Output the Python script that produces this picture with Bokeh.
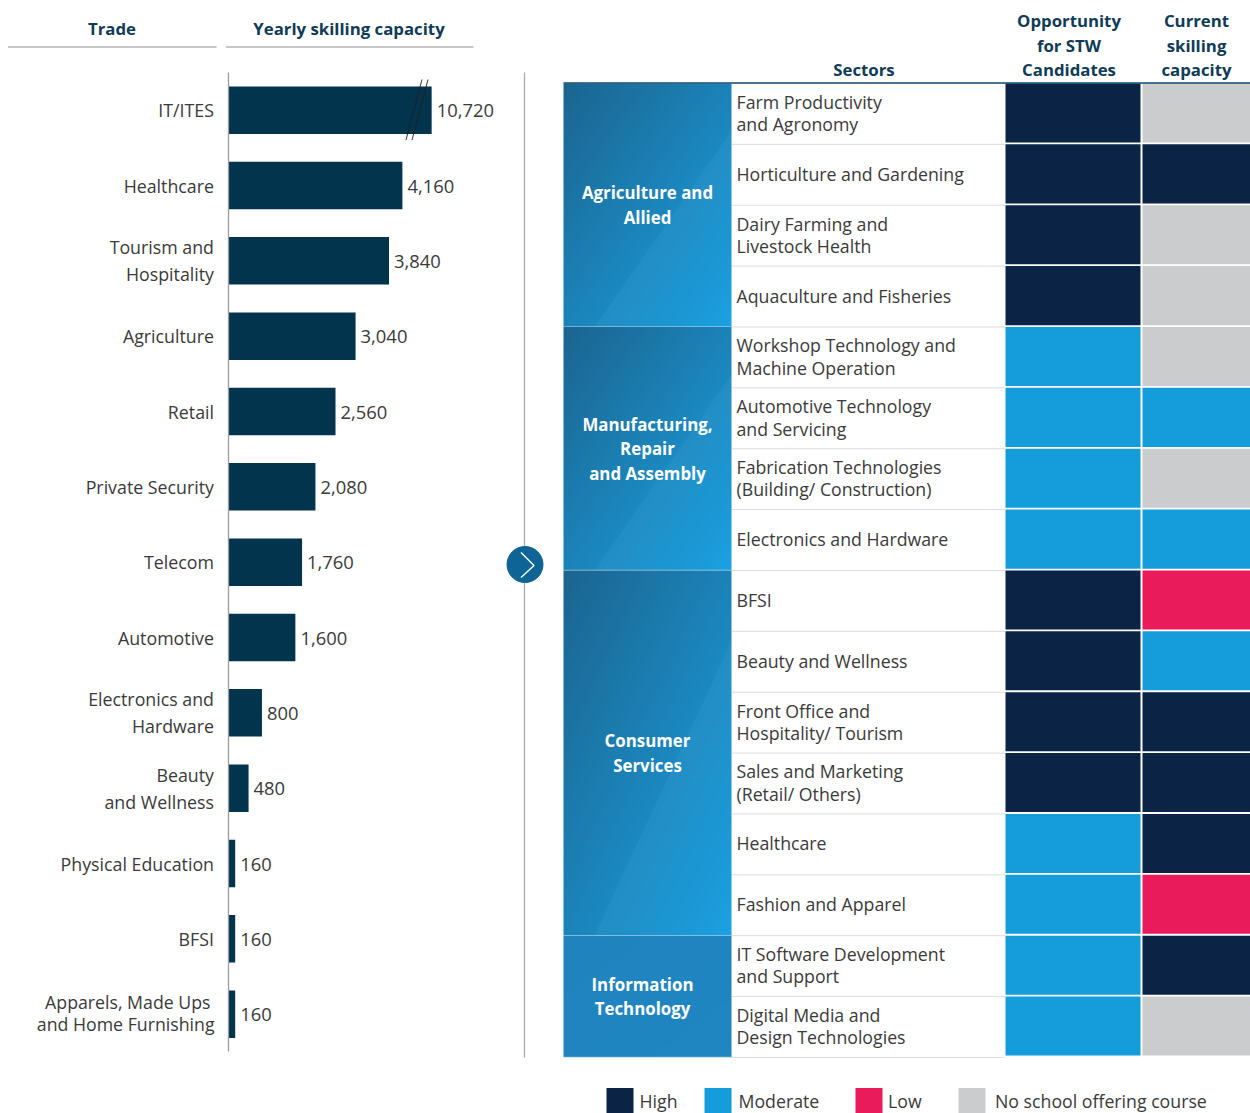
import numpy as np
from bokeh.embed import file_html
from bokeh.resources import INLINE
from bokeh.plotting import figure
from bokeh.models import Range1d, LinearAxis, FixedTicker
from bokeh.core.properties import value

# ---------- data ----------
trades = ["IT/ITES", "Healthcare", "Tourism and\nHospitality", "Agriculture", "Retail",
          "Private Security", "Telecom", "Automotive", "Electronics and\nHardware",
          "Beauty\nand Wellness", "Physical Education", "BFSI",
          "Apparels, Made Ups\nand Home Furnishing"]
capacity = [10720, 4160, 3840, 3040, 2560, 2080, 1760, 1600, 800, 480, 160, 160, 160]
# the first bar has a broken axis: it is drawn shorter than its value
drawn_capacity = [4860, 4160, 3840, 3040, 2560, 2080, 1760, 1600, 800, 480, 160, 160, 160]

groups = ["Agriculture and\nAllied", "Manufacturing,\nRepair\nand Assembly",
          "Consumer\nServices", "Information\nTechnology"]
group_sizes = [4, 4, 6, 2]
sectors = ["Farm Productivity\nand Agronomy", "Horticulture and Gardening",
           "Dairy Farming and\nLivestock Health", "Aquaculture and Fisheries",
           "Workshop Technology and\nMachine Operation", "Automotive Technology\nand Servicing",
           "Fabrication Technologies\n(Building/ Construction)", "Electronics and Hardware",
           "BFSI", "Beauty and Wellness", "Front Office and\nHospitality/ Tourism",
           "Sales and Marketing\n(Retail/ Others)", "Healthcare", "Fashion and Apparel",
           "IT Software Development\nand Support", "Digital Media and\nDesign Technologies"]
opportunity = ["High", "High", "High", "High", "Moderate", "Moderate", "Moderate", "Moderate",
               "High", "High", "High", "High", "Moderate", "Moderate", "Moderate", "Moderate"]
current = ["None", "High", "None", "None", "None", "Moderate", "None", "Moderate",
           "Low", "Moderate", "High", "High", "High", "Low", "High", "None"]
level_colors = {"High": "#0B2344", "Moderate": "#159CDB", "Low": "#E91B5A", "None": "#CBCCCE"}
legend_labels = ["High", "Moderate", "Low", "No school offering course"]
legend_levels = ["High", "Moderate", "Low", "None"]
legend_x = [606, 704, 855, 958]
legend_text_x = [639, 738, 887.5, 994.5]

# ---------- layout ----------
FONT = value("Open Sans")
INK = "#3A3A3A"
HEAD = "#0F3B57"
BAR = "#03344E"
PX_PER_UNIT = 0.0418
AXIS_X = 228.0
TRADE_TOP, TRADE_STEP = 109.7, 75.33
ROW_TOP, ROW_STEP = 83.0, 60.87
W, H = 1250, 1113

p = figure(width=W, height=H, output_backend="svg", toolbar_location=None,
           x_axis_type=None, y_axis_type=None, min_border=0,
           x_range=Range1d(0, W), y_range=Range1d(H, 0),
           outline_line_color=None, background_fill_color="white", border_fill_color="white")

p.extra_x_ranges["capacity"] = Range1d(-AXIS_X / PX_PER_UNIT, (W - AXIS_X) / PX_PER_UNIT)
p.extra_y_ranges["trade"] = Range1d((H - TRADE_TOP) / TRADE_STEP, -TRADE_TOP / TRADE_STEP)
p.extra_y_ranges["row"] = Range1d((H - ROW_TOP) / ROW_STEP, -ROW_TOP / ROW_STEP)
CELL = 137.0
COL0 = 1072.5
p.extra_x_ranges["column"] = Range1d(-COL0 / CELL, (W - COL0) / CELL)

# ---------- left: bars ----------
idx = list(range(len(trades)))
p.hbar(y=idx, left=0, right=drawn_capacity, height=47.5 / TRADE_STEP, fill_color=BAR, line_color=None,
       x_range_name="capacity", y_range_name="trade")
p.text(x=drawn_capacity, y=idx, text=[f"{v:,}" for v in capacity], x_offset=5,
       y_offset=0.5, text_font=FONT, text_font_size="13.8pt", text_color=INK, text_align="left",
       text_baseline="middle", x_range_name="capacity", y_range_name="trade")

overrides = {i: t for i, t in enumerate(trades)}
overrides[12] = " "
axis = LinearAxis(y_range_name="trade", fixed_location=AXIS_X - 0.5, bounds=(-0.5, 12.5),
                  ticker=FixedTicker(ticks=idx),
                  major_label_overrides=overrides,
                  major_tick_line_color=None, minor_tick_line_color=None,
                  major_tick_in=0, major_tick_out=0,
                  axis_line_color="#9C9C9C", axis_line_width=1.3,
                  major_label_standoff=14,
                  major_label_text_font="Open Sans", major_label_text_font_size="13.35pt",
                  major_label_text_color=INK, major_label_text_line_height=1.13)
p.add_layout(axis, "left")
# the last trade label is set tighter, and its first line sits slightly further left
for line, off, xp in zip(trades[12].split("\n"), (-0.155, 0.135), (210, 214)):
    p.text(x=[xp], y=[12 + off], text=[line], text_font=FONT, text_font_size="13.3pt", text_color=INK,
           text_align="right", text_baseline="middle", y_range_name="trade")

# axis-break strokes on the first bar
for dx in (0, 6):
    p.line(x=[405.5 + dx, 421.5 + dx], y=[139.5, 79], line_color="#1E1E1E", line_width=0.9)

# divider and arrow
p.line(x=[524, 524], y=[72, 1057], line_color="#ABABAB", line_width=1.3)
p.scatter(x=[524.5], y=[564], size=36, color="#0F6496", line_color="#0F6496")
p.line(x=[520.5, 533.5, 520.5], y=[552, 565, 577], line_color="white", line_width=1.4)

# column headers
for x, y, t in [(111.5, 28, "Trade"), (348.5, 28, "Yearly skilling capacity"), (863.5, 68.5, "Sectors"),
                (1068.5, 20, "Opportunity"), (1068.5, 44.5, "for STW"), (1068.5, 68.5, "Candidates"),
                (1196, 20, "Current"), (1196, 44.5, "skilling"), (1196, 68.5, "capacity")]:
    p.text(x=[x], y=[y], text=[t], text_font=FONT, text_font_size="12.6pt",
           text_font_style="bold", text_color=HEAD, text_align="center", text_baseline="middle")
for x0, x1 in [(7.5, 216), (225.5, 473)]:
    p.line(x=[x0, x1], y=[46.5, 46.5], line_color="#8F8F8F", line_width=1.2)


# ---------- right: groups ----------
def gradient(h, start, end, sheen):
    w = 168
    yy, xx = np.mgrid[0:h, 0:w]
    u = xx / w
    v = yy / h
    t = 0.5 * u + 0.5 * v
    c0, c1 = np.array(start, float), np.array(end, float)
    rgb = c0[None, None, :] + (c1 - c0)[None, None, :] * t[..., None]
    if sheen:
        edge = 0.18 + 0.82 * (1 - v) / 0.81
        inside = u > edge
        fade = np.clip(1 - (u - edge) / 0.5, 0, 1)
        rgb += (inside * fade)[..., None] * np.array([9.0, 5.0, 4.0])
    img = np.empty((h, w), dtype=np.uint32)
    view = img.view(np.uint8).reshape((h, w, 4))
    view[..., :3] = np.clip(rgb, 0, 255).astype(np.uint8)
    view[..., 3] = 255
    return img[::-1]


start_row = 0
for g, n in zip(groups, group_sizes):
    h = int(round(n * ROW_STEP))
    if n > 2:
        img = gradient(h, (27, 101, 144), (27, 162, 226), True)
    else:
        img = gradient(h, (31, 131, 190), (31, 135, 194), False)
    p.image_rgba(image=[img], x=[563], y=[start_row], dw=[168], dh=[n],
                 y_range_name="row", origin="top_left", anchor="bottom_left")
    cx = 642 if n == 2 else 647
    p.text(x=[cx], y=[start_row + n / 2], text=[g],
           text_font=FONT, text_font_size="12.65pt", text_font_style="bold", text_color="white",
           text_align="center", text_baseline="middle", text_line_height=1.07, y_range_name="row")
    p.line(x=[563, 731], y=[start_row + n, start_row + n], line_color="white", line_width=1.4,
           line_dash="1 1", y_range_name="row")
    start_row += n

# ---------- right: sector rows + cells ----------
rows = np.arange(len(sectors))
p.text(x=[736] * len(sectors), y=rows + 0.485, text=sectors, text_font=FONT, text_font_size="13.3pt",
       text_color=INK, text_align="left", text_baseline="middle", text_line_height=0.93, y_range_name="row")
for r in rows:
    p.line(x=[731, 1005], y=[r + 1, r + 1], line_color="#B8B8B8", line_width=1, line_dash="1 1", y_range_name="row")

for col, levels in enumerate([opportunity, current]):
    p.rect(x=[col] * len(levels), y=rows + 0.485, width=135 / CELL, height=0.97,
           fill_color=[level_colors[l] for l in levels], line_color=None,
           x_range_name="column", y_range_name="row")

# top rule of the table
p.line(x=[563, W], y=[82.5, 82.5], line_color="#0F4A68", line_width=1.6)

# ---------- legend ----------
for x, tx, lab, lev in zip(legend_x, legend_text_x, legend_labels, legend_levels):
    p.quad(left=[x], right=[x + 27], top=[1087.5], bottom=[H], fill_color=level_colors[lev], line_color=None)
    p.text(x=[tx], y=[1100.5], text=[lab], text_font=FONT, text_font_size="13.3pt", text_color=INK,
           text_align="left", text_baseline="middle")

open("out.html", "w").write(file_html(p, INLINE))
